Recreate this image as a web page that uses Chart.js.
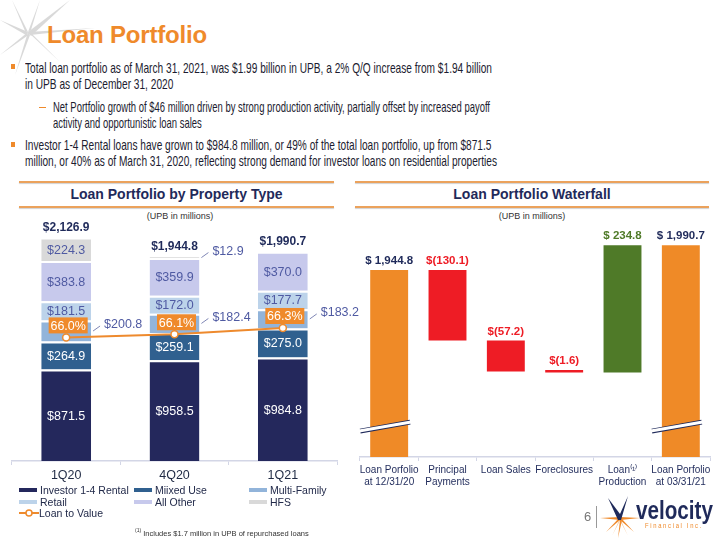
<!DOCTYPE html>
<html><head><meta charset="utf-8">
<script src="https://cdn.jsdelivr.net/npm/chart.js@4.4.1/dist/chart.umd.min.js"></script>
<style>
html,body{margin:0;padding:0;background:#fff;}
body{width:720px;height:540px;position:relative;overflow:hidden;font-family:"Liberation Sans",Arial,sans-serif;}
.abs{position:absolute;}
#title{left:47px;top:21px;font-size:24px;font-weight:bold;color:#ef8a2b;letter-spacing:-0.2px;}
.para{position:absolute;font-family:"Liberation Sans",Arial,sans-serif;font-size:15px;line-height:16px;color:#1c1c30;white-space:nowrap;transform-origin:0 0;}
.sq{position:absolute;width:4px;height:5px;background:#ef8a2b;}
.dash{position:absolute;width:7px;height:1px;background:#ef8a2b;}
.hdr{position:absolute;font-size:14px;font-weight:bold;color:#1f2a5a;text-align:center;}
.hline{position:absolute;height:2px;background:#eba25c;box-shadow:0 1px 1px rgba(0,0,0,0.18);}
.sub{position:absolute;font-size:9px;color:#333;text-align:center;}
canvas{position:absolute;}
#legend{position:absolute;left:19px;top:484px;width:320px;font-size:10.5px;color:#222a4a;}
.li{position:absolute;white-space:nowrap;line-height:12px;}
.sw{display:inline-block;width:18px;height:4px;vertical-align:middle;margin-right:3px;margin-top:-2px;}
#foot{left:135px;top:527px;font-size:7.5px;color:#333;}
#pg{left:584px;top:509px;font-size:13px;color:#777;}
#vtxt{left:636px;top:495px;font-size:26px;font-weight:bold;color:#1f2a5a;transform-origin:0 0;white-space:nowrap;}
#fin{left:645px;top:522px;font-size:7px;color:#ef8a2b;letter-spacing:2px;transform-origin:0 0;white-space:nowrap;}
</style></head>
<body>
<svg class="abs" style="left:0;top:0" width="110" height="75">
  <g fill="#d3d3d3" opacity="0.85">
    <polygon points="28,32 70,0 31,36"/>
    <polygon points="28,32 40,0 31,30"/>
    <polygon points="28,32 12,0 25,31"/>
    <polygon points="28,32 0,20 26,35"/>
    <polygon points="28,32 0,55 27,36"/>
    <polygon points="28,32 15,75 30,35"/>
    <polygon points="28,32 60,62 32,34"/>
    <polygon points="28,32 95,28 30,35"/>
  </g>
</svg>
<div id="title" class="abs">Loan Portfolio</div>

<div class="sq" style="left:11px;top:64px"></div>
<div class="para" data-w="467" style="left:25px;top:60px">Total loan portfolio as of March 31, 2021, was $1.99 billion in UPB, a 2% Q/Q increase from $1.94 billion<br>in UPB as of December 31, 2020</div>
<div class="dash" style="left:39px;top:107px"></div>
<div class="para" data-w="437" style="left:53px;top:99px">Net Portfolio growth of $46 million driven by strong production activity, partially offset by increased payoff<br>activity and opportunistic loan sales</div>
<div class="sq" style="left:11px;top:142px"></div>
<div class="para" data-w="472" style="left:25px;top:137px">Investor 1-4 Rental loans have grown to $984.8 million, or 49% of the total loan portfolio, up from $871.5<br>million, or 40% as of March 31, 2020, reflecting strong demand for investor loans on residential properties</div>

<div class="hline" style="left:19px;top:181px;width:315px"></div>
<div class="hline" style="left:19px;top:206px;width:315px"></div>
<div class="hdr" style="left:19px;top:186px;width:315px">Loan Portfolio by Property Type</div>
<div class="sub" style="left:80px;top:211px;width:200px">(UPB in millions)</div>

<div class="hline" style="left:355px;top:181px;width:354px"></div>
<div class="hline" style="left:355px;top:206px;width:354px"></div>
<div class="hdr" style="left:355px;top:186px;width:354px">Loan Portfolio Waterfall</div>
<div class="sub" style="left:432px;top:211px;width:200px">(UPB in millions)</div>

<canvas id="c1" width="362" height="300" style="left:0;top:190px;width:362px;height:300px"></canvas>
<canvas id="c2" width="365" height="311" style="left:355px;top:190px;width:365px;height:311px"></canvas>

<div id="legend"></div>
<div id="foot" class="abs"><sup style="font-size:5px">(1)</sup> Includes $1.7 million in UPB of repurchased loans</div>

<div id="pg" class="abs">6</div>
<div class="abs" style="left:596px;top:506px;width:1px;height:22px;background:#999"></div>
<svg class="abs" style="left:598px;top:496px" width="44" height="44">
  <g fill="#ef8a2b">
    <polygon points="22,24 2,22 22,21"/>
    <polygon points="22,24 42,22 22,21"/>
    <polygon points="22,24 8,36 21,22"/>
    <polygon points="22,24 36,36 23,22"/>
    <polygon points="22,24 20,42 24,24"/>
    <polygon points="22,24 12,14 21,23"/>
    <polygon points="22,24 32,14 23,23"/>
    <polygon points="22,24 14,40 22,23"/>
    <polygon points="22,24 30,40 22,23"/>
  </g>
  <polygon points="10,2 22,18 30,0 23,24 20,24" fill="#1f2a5a"/>
</svg>
<div id="vtxt" class="abs" data-w="77">velocity</div>
<div id="fin" class="abs" data-w="58">Financial Inc.</div>

<script>
// ---------- Left chart data ----------
const quarters = ["1Q20", "4Q20", "1Q21"];
const investorRental = [871.5, 958.5, 984.8];
const mixedUse = [264.9, 259.1, 275.0];
const multiFamily = [200.8, 182.4, 183.2];
const retail = [181.5, 172.0, 177.7];
const allOther = [383.8, 359.9, 370.0];
const hfs = [224.3, 12.9, null];
const loanToValue = [66.0, 66.1, 66.3];
const totals = [2126.9, 1944.8, 1990.7];

// ---------- Waterfall data ----------
const wfCategories = [["Loan Porfolio", "at 12/31/20"], ["Principal", "Payments"], "Loan Sales", "Foreclosures", ["Loan\u207D\u00B9\u207E", "Production"], ["Loan Porfolio", "at 03/31/21"]];
const wfValues = [1944.8, -130.1, -57.2, -1.6, 234.8, 1990.7];
const wfIsTotal = [true, false, false, false, false, true];

// fit condensed text widths
document.querySelectorAll("[data-w]").forEach(el => {
  const w = el.getBoundingClientRect().width;
  el.style.transform = "scaleX(" + (parseFloat(el.dataset.w) / w) + ")";
});

const FONT = "'Liberation Sans', Arial, sans-serif";
const NAVY = "#1f2a5a";
const LIGHTTXT = "#4f5aa2";

function money(v) {
  return v.toLocaleString("en-US", {minimumFractionDigits: 1, maximumFractionDigits: 1});
}

const series = [
  {label: "Investor 1-4 Rental", data: investorRental, color: "#24285c", txt: "#ffffff", mode: "in"},
  {label: "Miixed Use", data: mixedUse, color: "#30608f", txt: "#ffffff", mode: "in"},
  {label: "Multi-Family", data: multiFamily, color: "#92b4da", txt: LIGHTTXT, mode: "out"},
  {label: "Retail", data: retail, color: "#bcd3ea", txt: LIGHTTXT, mode: "in"},
  {label: "All Other", data: allOther, color: "#c7c9ec", txt: LIGHTTXT, mode: "in"},
  {label: "HFS", data: hfs, color: "#d9d9d9", txt: LIGHTTXT, mode: "auto"}
];

const barSets = series.map(s => ({
  type: "bar", label: s.label, data: s.data, backgroundColor: s.color,
  borderColor: "#ffffff", borderWidth: {top: 2, bottom: 0, left: 0, right: 0}, borderSkipped: false,
  barPercentage: 0.46, categoryPercentage: 1.0, stack: "s", yAxisID: "y", order: 2,
  _txt: s.txt, _mode: s.mode
}));
const ltvSet = {
  type: "line", label: "Loan to Value", data: loanToValue, borderColor: "#ee8a2d", borderWidth: 2,
  pointBackgroundColor: "#ffffff", pointBorderColor: "#ee8a2d", pointBorderWidth: 1.5, pointRadius: 3.5,
  yAxisID: "y2", order: 0
};

const leftLabels = {
  id: "leftLabels",
  afterDatasetsDraw(chart) {
    const ctx = chart.ctx;
    ctx.save();
    ctx.textBaseline = "middle";
    chart.data.datasets.forEach((ds, di) => {
      if (ds.type !== "bar") return;
      const meta = chart.getDatasetMeta(di);
      meta.data.forEach((el, i) => {
        const v = ds.data[i];
        if (v == null) return;
        const h = Math.abs(el.base - el.y);
        const cy = (el.y + el.base) / 2;
        const txt = "$" + money(v);
        ctx.font = "12.5px " + FONT;
        let out = ds._mode === "out" || (ds._mode === "auto" && h < 10);
        if (!out) {
          ctx.fillStyle = ds._txt;
          ctx.textAlign = "center";
          ctx.fillText(txt, el.x, cy + 1);
        } else {
          const rx = el.x + el.width / 2;
          const ly = ds._mode === "out" ? cy : el.y + 1;
          ctx.strokeStyle = "#7f86b5";
          ctx.lineWidth = 1;
          ctx.beginPath();
          ctx.moveTo(rx + 2, ly);
          ctx.lineTo(rx + 9, ly - 5);
          ctx.stroke();
          ctx.fillStyle = LIGHTTXT;
          ctx.textAlign = "left";
          ctx.fillText(txt, rx + 13, ly - 6);
        }
      });
    });
    // totals
    const ys = chart.scales.y, xs = chart.scales.x;
    ctx.font = "bold 12px " + FONT;
    ctx.fillStyle = NAVY;
    ctx.textAlign = "center";
    totals.forEach((t, i) => {
      ctx.fillText("$" + money(t), xs.getPixelForValue(i), ys.getPixelForValue(t) - 10);
    });
    // LTV boxes
    const lm = chart.getDatasetMeta(chart.data.datasets.findIndex(d => d.type === "line"));
    lm.data.forEach((p, i) => {
      const bw = 39, bh = 16;
      const bx = p.x - bw / 2 + 2, by = p.y - 12 - bh / 2;
      ctx.fillStyle = "#ef8a2b";
      ctx.fillRect(bx, by, bw, bh);
      ctx.fillStyle = "#ffffff";
      ctx.font = "12.5px " + FONT;
      ctx.fillText(loanToValue[i].toFixed(1) + "%", bx + bw / 2, by + bh / 2 + 1);
    });
    ctx.restore();
  }
};

new Chart(document.getElementById("c1"), {
  data: {labels: quarters, datasets: [...barSets, ltvSet]},
  options: {
    responsive: false, animation: false,
    layout: {padding: {top: 10, left: 12, right: 25, bottom: 4}},
    plugins: {legend: {display: false}, tooltip: {enabled: false}},
    scales: {
      x: {stacked: true, grid: {display: true, drawOnChartArea: false, tickLength: 4, color: "#d3d6e6"},
          border: {color: "#d3d6e6", width: 1.5},
          ticks: {color: "#1f2a44", font: {size: 12.5, family: FONT}, padding: 3}},
      y: {stacked: true, display: false, min: 0, max: 2483},
      y2: {display: false, min: 62.06, max: 70.38}
    }
  },
  plugins: [leftLabels]
});

// legend
const leg = document.getElementById("legend");
const cols = [0, 115, 230];
series.forEach((s, i) => {
  const d = document.createElement("div");
  d.className = "li";
  d.style.left = cols[i % 3] + "px";
  d.style.top = (Math.floor(i / 3) * 11.5) + "px";
  d.innerHTML = '<span class="sw" style="background:' + s.color + '"></span>' + s.label;
  leg.appendChild(d);
});
const ltvLeg = document.createElement("div");
ltvLeg.className = "li";
ltvLeg.style.left = "0px"; ltvLeg.style.top = "23px";
ltvLeg.innerHTML = '<svg width="20" height="8" style="vertical-align:middle;margin-top:-2px"><line x1="0" y1="4" x2="20" y2="4" stroke="#ee8a2d" stroke-width="2"/><circle cx="10" cy="4" r="3" fill="#fff" stroke="#ee8a2d" stroke-width="1.5"/></svg>' + ltvSet.label;
leg.appendChild(ltvLeg);

// ---------- Waterfall ----------
const WF_MIN = 1600, WF_MAX = 2074;
const wfRanges = [];
let running = 0;
wfValues.forEach((v, i) => {
  if (wfIsTotal[i]) { wfRanges.push([WF_MIN, v]); running = v; }
  else { const a = running, b = running + v; wfRanges.push([Math.min(a, b), Math.max(a, b)]); running = b; }
});
const wfColors = wfValues.map((v, i) => wfIsTotal[i] ? "#ef8a27" : (v < 0 ? "#ee1c25" : "#4f7a28"));
const wfTextColors = wfValues.map((v, i) => wfIsTotal[i] ? NAVY : (v < 0 ? "#ee1c25" : "#4f7a28"));
const BREAK_AT = 1657;

const wfPlugin = {
  id: "wfPlugin",
  afterDatasetsDraw(chart) {
    const ctx = chart.ctx;
    const meta = chart.getDatasetMeta(0);
    const ys = chart.scales.y;
    ctx.save();
    ctx.textAlign = "center";
    ctx.textBaseline = "middle";
    ctx.font = "bold 11.5px " + FONT;
    meta.data.forEach((el, i) => {
      const v = wfValues[i];
      const top = Math.min(el.y, el.base);
      const txt = v < 0 ? "$(" + money(-v) + ")" : "$ " + money(v);
      ctx.fillStyle = wfTextColors[i];
      ctx.fillText(txt, el.x, top - 9);
      if (wfIsTotal[i]) {
        const yb = ys.getPixelForValue(BREAK_AT);
        const x0 = el.x - el.width / 2 - 10, x1 = el.x + el.width / 2 + 2;
        ctx.lineCap = "butt";
        ctx.strokeStyle = NAVY; ctx.lineWidth = 5;
        ctx.beginPath(); ctx.moveTo(x0, yb + 5); ctx.lineTo(x1, yb - 4); ctx.stroke();
        ctx.strokeStyle = "#ffffff"; ctx.lineWidth = 3;
        ctx.beginPath(); ctx.moveTo(x0 - 1, yb + 5); ctx.lineTo(x1 + 1, yb - 4); ctx.stroke();
      }
    });
    ctx.restore();
  }
};

new Chart(document.getElementById("c2"), {
  type: "bar",
  data: {labels: wfCategories, datasets: [{
    label: "Waterfall", data: wfRanges, backgroundColor: wfColors,
    barPercentage: 0.65, categoryPercentage: 1.0, minBarLength: 2.5, borderSkipped: false
  }]},
  options: {
    responsive: false, animation: false,
    layout: {padding: {top: 10, left: 5, right: 10, bottom: 10}},
    plugins: {legend: {display: false}, tooltip: {enabled: false}},
    scales: {
      x: {grid: {display: true, drawOnChartArea: false, tickLength: 4, color: "#d3d6e6"},
          border: {color: "#d3d6e6", width: 1.5},
          ticks: {color: "#1f2a5a", font: {size: 10, family: FONT}, padding: 3, maxRotation: 0, autoSkip: false}},
      y: {display: false, min: WF_MIN, max: WF_MAX}
    }
  },
  plugins: [wfPlugin]
});
</script>
</body></html>
